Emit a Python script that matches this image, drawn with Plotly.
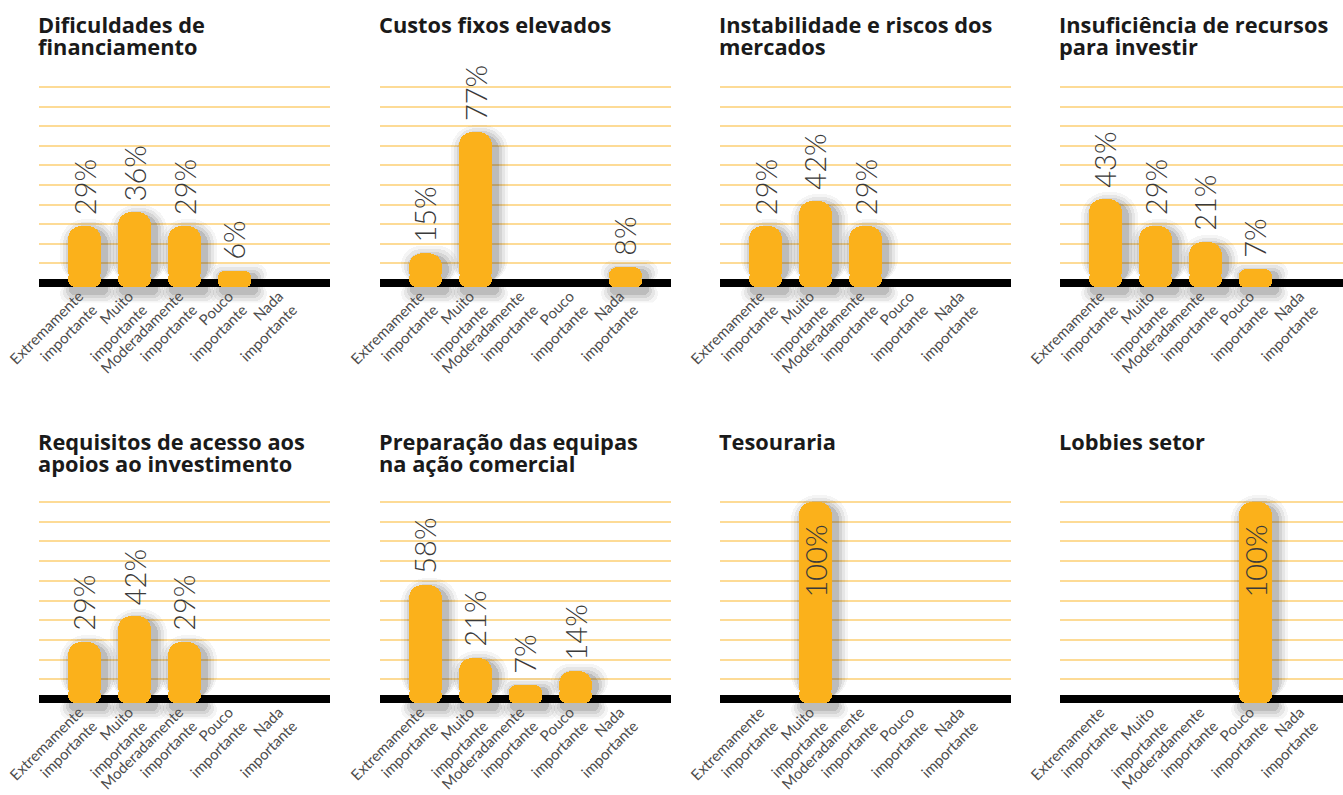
import plotly.graph_objects as go

# ---- data -----------------------------------------------------------------
categorias = [
    "Extremamente<br>importante",
    "Muito<br>importante",
    "Moderadamente<br>importante",
    "Pouco<br>importante",
    "Nada<br>importante",
]

titulos = [
    "Dificuldades de<br>financiamento",
    "Custos fixos elevados",
    "Instabilidade e riscos dos<br>mercados",
    "Insuficiência de recursos<br>para investir",
    "Requisitos de acesso aos<br>apoios ao investimento",
    "Preparação das equipas<br>na ação comercial",
    "Tesouraria",
    "Lobbies setor",
]

dificuldades_financiamento = [29, 36, 29, 6, None]
custos_fixos = [15, 77, None, None, 8]
instabilidade_mercados = [29, 42, 29, None, None]
insuficiencia_recursos = [43, 29, 21, 7, None]
requisitos_acesso = [29, 42, 29, None, None]
preparacao_equipas = [58, 21, 7, 14, None]
tesouraria = [None, 100, None, None, None]
lobbies_setor = [None, None, None, 100, None]

series = [
    dificuldades_financiamento, custos_fixos, instabilidade_mercados,
    insuficiencia_recursos, requisitos_acesso, preparacao_equipas,
    tesouraria, lobbies_setor,
]

grelha = list(range(10, 101, 10))

# ---- styling / geometry ---------------------------------------------------
FIG_W, FIG_H = 1343, 795
COL_LEFT = [39, 380, 720, 1060]      # px, left edge of each panel
PANEL_W = 291                         # px
CAT_PX = 50                           # px per category
X_START = -0.9                        # category units left of first bar
ROW_ZERO = [283, 699]                 # px, baseline of each row
ROW_SCALE = [1.96, 1.97]              # px per percentage point
Y_RANGE = [-10, 104]
TITLE_Y = [(25, 47), (441, 463)]      # px, centre of each title line

BAR_COLOR = "#FBB11B"
GRID_COLOR = "#FDDB96"
BAR_W_PX = 33
RADIUS = 13
FOOT_PX = 4          # bars reach the lower edge of the 8 px baseline
CAP_PX = 12          # height of the rounded foot above the baseline

TITLE_FONT = dict(family="'Open Sans', Lato, sans-serif", size=21.8, color="#1a1a1a", weight=700)
VALUE_FONT = dict(family="Lato, 'Open Sans', sans-serif", size=29, color="#3a3a3a", weight=300)
TICK_FONT = dict(family="Lato, 'Open Sans', sans-serif", size=15, color="#4d4d4d")

# soft drop shadow: (inflate px, opacity); offset right / down in px
SHADOW = [(12, 0.04), (9, 0.06), (6, 0.08), (3, 0.11)]
SHADOW_DX, SHADOW_DY = 4, 5


def bar(xs, y, base, width_px, offset_px, color, radius, xa, ya, hover=False):
    w = width_px / CAT_PX
    return go.Bar(
        x=xs, y=y, base=base, width=w, offset=-w / 2 + offset_px / CAT_PX,
        marker=dict(color=color, line=dict(width=0), cornerradius=radius),
        xaxis=xa, yaxis=ya, showlegend=False,
        hoverinfo=None if hover else "skip",
        hovertemplate="%{y}%<extra></extra>" if hover else None,
    )


fig = go.Figure()
layout_axes = {}
annotations = []
shapes = []

for i, (titulo, vals) in enumerate(zip(titulos, series)):
    row, col = divmod(i, 4)
    n = i + 1
    xa = "x" if n == 1 else f"x{n}"
    ya = "y" if n == 1 else f"y{n}"
    xkey = "xaxis" if n == 1 else f"xaxis{n}"
    ykey = "yaxis" if n == 1 else f"yaxis{n}"

    left = COL_LEFT[col]
    right = min(left + PANEL_W, FIG_W)
    zero, scale = ROW_ZERO[row], ROW_SCALE[row]
    top_px = zero - Y_RANGE[1] * scale
    bot_px = zero - Y_RANGE[0] * scale

    layout_axes[xkey] = dict(
        domain=[left / FIG_W, right / FIG_W],
        range=[X_START, X_START + (right - left) / CAT_PX],
        anchor=ya,
        tickmode="array",
        tickvals=list(range(len(categorias))),
        ticktext=categorias,
        tickangle=-45,
        tickfont=TICK_FONT,
        ticks="",
        ticklabelstandoff=-19,
        ticklabelshift=-5,
        showgrid=False,
        zeroline=False,
        showline=False,
        automargin=False,
        fixedrange=True,
    )
    layout_axes[ykey] = dict(
        domain=[(FIG_H - bot_px) / FIG_H, (FIG_H - top_px) / FIG_H],
        range=Y_RANGE,
        anchor=xa,
        tickmode="array",
        tickvals=grelha,
        showticklabels=False,
        ticks="",
        showgrid=True,
        gridcolor=GRID_COLOR,
        gridwidth=2,
        zeroline=False,
        showline=False,
        automargin=False,
        fixedrange=True,
    )

    # thick black baseline
    shapes.append(dict(
        type="line", xref=f"{xa} domain", yref=ya,
        x0=0, x1=1, y0=0, y1=0,
        line=dict(color="#000000", width=8), layer="below",
    ))

    xs = list(range(len(categorias)))
    foot = FOOT_PX / scale

    # shadow layers: the bar outline shifted and inflated; the upper part
    # rounds at the top, the lower part at the bottom, joined on the baseline
    for inflate, alpha in SHADOW:
        color = f"rgba(0,0,0,{alpha})"
        grow = inflate / scale
        drop = SHADOW_DY / scale
        tops = [None if v is None else v - drop + grow for v in vals]
        bots = [None if v is None else -foot - drop - grow for v in vals]
        fig.add_trace(bar(xs, tops, 0, BAR_W_PX + 2 * inflate, SHADOW_DX,
                          color, RADIUS + inflate, xa, ya))
        fig.add_trace(bar(xs, bots, 0, BAR_W_PX + 2 * inflate, SHADOW_DX,
                          color, RADIUS + inflate, xa, ya))

    # rounded foot of each bar, reaching the lower edge of the baseline
    cap_top = [None if v is None else min(v / 2, CAP_PX / scale) for v in vals]
    cap_len = [None if c is None else -(c + foot) for c in cap_top]
    fig.add_trace(bar(xs, cap_len, cap_top, BAR_W_PX, 0, BAR_COLOR, RADIUS, xa, ya))

    # main bars
    fig.add_trace(bar(xs, vals, 0, BAR_W_PX, 0, BAR_COLOR, RADIUS, xa, ya, hover=True))

    # value labels
    for x, v in zip(xs, vals):
        if v is None:
            continue
        inside = v >= 100
        annotations.append(dict(
            x=x, y=v, xref=xa, yref=ya,
            text=f"{v}%", textangle=-90, showarrow=False,
            font=VALUE_FONT,
            xanchor="center",
            yanchor="top" if inside else "bottom",
            yshift=-21 if inside else 9,
        ))

    # panel title, one annotation per line
    for linha, ypx in zip(titulo.split("<br>"), TITLE_Y[row]):
        annotations.append(dict(
            x=(left - 3) / FIG_W, y=(FIG_H - ypx) / FIG_H,
            xref="paper", yref="paper",
            text=linha, showarrow=False, font=TITLE_FONT,
            xanchor="left", yanchor="middle",
        ))

fig.update_layout(
    width=FIG_W, height=FIG_H,
    margin=dict(l=0, r=0, t=0, b=0, pad=0, autoexpand=False),
    paper_bgcolor="white", plot_bgcolor="white",
    barmode="overlay", bargap=0,
    showlegend=False,
    annotations=annotations,
    shapes=shapes,
    **layout_axes,
)

fig.write_html("out.html")
